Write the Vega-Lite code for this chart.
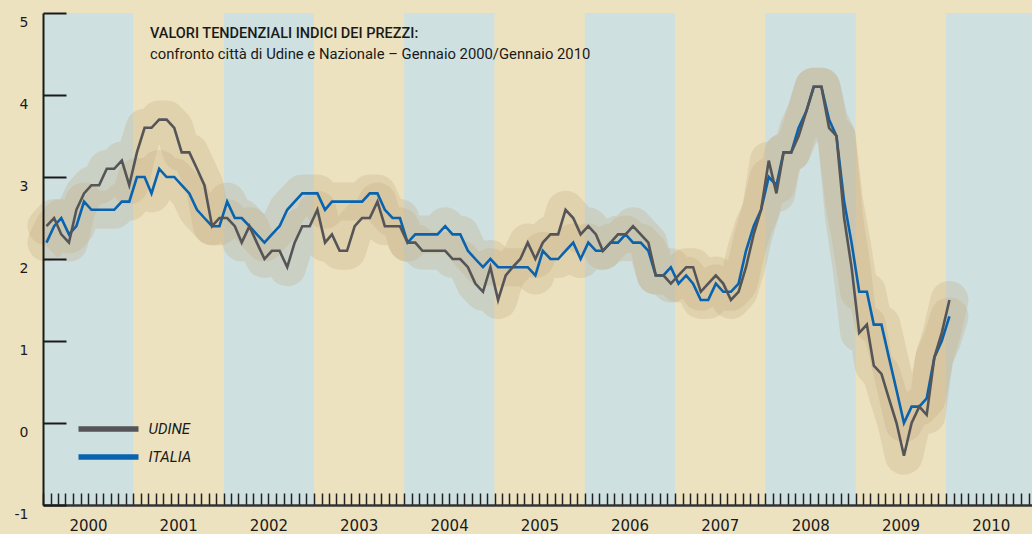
{
"$schema": "https://vega.github.io/schema/vega-lite/v6.json",
"width": 989, "height": 492,
"autosize": "none",
"padding": {"left": 43, "top": 13, "right": 0, "bottom": 29},
"background": "#ede2bf",
"config": {"view": {"stroke": null}},
"title": {"text": "VALORI TENDENZIALI INDICI DEI PREZZI:", "subtitle": "confronto città di Udine e Nazionale – Gennaio 2000/Gennaio 2010", "anchor": "start", "frame": "group", "orient": "top", "offset": -51, "dx": 107, "font": "Roboto", "fontSize": 14.5, "fontWeight": 500, "color": "#1a1a1a", "subtitleFont": "Roboto", "subtitleFontSize": 14.8, "subtitleColor": "#1a1a1a", "subtitlePadding": 6},
"datasets": {
"bands": [
{"s": "2000-01-01", "e": "2001-01-01", "k": "blu"},
{"s": "2001-01-01", "e": "2002-01-01", "k": "beige"},
{"s": "2002-01-01", "e": "2003-01-01", "k": "blu"},
{"s": "2003-01-01", "e": "2004-01-01", "k": "beige"},
{"s": "2004-01-01", "e": "2005-01-01", "k": "blu"},
{"s": "2005-01-01", "e": "2006-01-01", "k": "beige"},
{"s": "2006-01-01", "e": "2007-01-01", "k": "blu"},
{"s": "2007-01-01", "e": "2008-01-01", "k": "beige"},
{"s": "2008-01-01", "e": "2009-01-01", "k": "blu"},
{"s": "2009-01-01", "e": "2010-01-01", "k": "beige"},
{"s": "2010-01-01", "e": "2011-01-01", "k": "blu"}
],
"series": [
{"d":"2000-01-15","UDINE":2.4,"ITALIA":2.2},{"d":"2000-02-15","UDINE":2.5,"ITALIA":2.4},{"d":"2000-03-15","UDINE":2.3,"ITALIA":2.5},{"d":"2000-04-15","UDINE":2.2,"ITALIA":2.3},{"d":"2000-05-15","UDINE":2.6,"ITALIA":2.4},{"d":"2000-06-15","UDINE":2.8,"ITALIA":2.7},{"d":"2000-07-15","UDINE":2.9,"ITALIA":2.6},{"d":"2000-08-15","UDINE":2.9,"ITALIA":2.6},{"d":"2000-09-15","UDINE":3.1,"ITALIA":2.6},{"d":"2000-10-15","UDINE":3.1,"ITALIA":2.6},{"d":"2000-11-15","UDINE":3.2,"ITALIA":2.7},{"d":"2000-12-15","UDINE":2.9,"ITALIA":2.7},
{"d":"2001-01-15","UDINE":3.3,"ITALIA":3.0},{"d":"2001-02-15","UDINE":3.6,"ITALIA":3.0},{"d":"2001-03-15","UDINE":3.6,"ITALIA":2.8},{"d":"2001-04-15","UDINE":3.7,"ITALIA":3.1},{"d":"2001-05-15","UDINE":3.7,"ITALIA":3.0},{"d":"2001-06-15","UDINE":3.6,"ITALIA":3.0},{"d":"2001-07-15","UDINE":3.3,"ITALIA":2.9},{"d":"2001-08-15","UDINE":3.3,"ITALIA":2.8},{"d":"2001-09-15","UDINE":3.1,"ITALIA":2.6},{"d":"2001-10-15","UDINE":2.9,"ITALIA":2.5},{"d":"2001-11-15","UDINE":2.4,"ITALIA":2.4},{"d":"2001-12-15","UDINE":2.5,"ITALIA":2.4},
{"d":"2002-01-15","UDINE":2.5,"ITALIA":2.7},{"d":"2002-02-15","UDINE":2.4,"ITALIA":2.5},{"d":"2002-03-15","UDINE":2.2,"ITALIA":2.5},{"d":"2002-04-15","UDINE":2.4,"ITALIA":2.4},{"d":"2002-05-15","UDINE":2.2,"ITALIA":2.3},{"d":"2002-06-15","UDINE":2.0,"ITALIA":2.2},{"d":"2002-07-15","UDINE":2.1,"ITALIA":2.3},{"d":"2002-08-15","UDINE":2.1,"ITALIA":2.4},{"d":"2002-09-15","UDINE":1.9,"ITALIA":2.6},{"d":"2002-10-15","UDINE":2.2,"ITALIA":2.7},{"d":"2002-11-15","UDINE":2.4,"ITALIA":2.8},{"d":"2002-12-15","UDINE":2.4,"ITALIA":2.8},
{"d":"2003-01-15","UDINE":2.6,"ITALIA":2.8},{"d":"2003-02-15","UDINE":2.2,"ITALIA":2.6},{"d":"2003-03-15","UDINE":2.3,"ITALIA":2.7},{"d":"2003-04-15","UDINE":2.1,"ITALIA":2.7},{"d":"2003-05-15","UDINE":2.1,"ITALIA":2.7},{"d":"2003-06-15","UDINE":2.4,"ITALIA":2.7},{"d":"2003-07-15","UDINE":2.5,"ITALIA":2.7},{"d":"2003-08-15","UDINE":2.5,"ITALIA":2.8},{"d":"2003-09-15","UDINE":2.7,"ITALIA":2.8},{"d":"2003-10-15","UDINE":2.4,"ITALIA":2.6},{"d":"2003-11-15","UDINE":2.4,"ITALIA":2.5},{"d":"2003-12-15","UDINE":2.4,"ITALIA":2.5},
{"d":"2004-01-15","UDINE":2.2,"ITALIA":2.2},{"d":"2004-02-15","UDINE":2.2,"ITALIA":2.3},{"d":"2004-03-15","UDINE":2.1,"ITALIA":2.3},{"d":"2004-04-15","UDINE":2.1,"ITALIA":2.3},{"d":"2004-05-15","UDINE":2.1,"ITALIA":2.3},{"d":"2004-06-15","UDINE":2.1,"ITALIA":2.4},{"d":"2004-07-15","UDINE":2.0,"ITALIA":2.3},{"d":"2004-08-15","UDINE":2.0,"ITALIA":2.3},{"d":"2004-09-15","UDINE":1.9,"ITALIA":2.1},{"d":"2004-10-15","UDINE":1.7,"ITALIA":2.0},{"d":"2004-11-15","UDINE":1.6,"ITALIA":1.9},{"d":"2004-12-15","UDINE":1.9,"ITALIA":2.0},
{"d":"2005-01-15","UDINE":1.5,"ITALIA":1.9},{"d":"2005-02-15","UDINE":1.8,"ITALIA":1.9},{"d":"2005-03-15","UDINE":1.9,"ITALIA":1.9},{"d":"2005-04-15","UDINE":2.0,"ITALIA":1.9},{"d":"2005-05-15","UDINE":2.2,"ITALIA":1.9},{"d":"2005-06-15","UDINE":2.0,"ITALIA":1.8},{"d":"2005-07-15","UDINE":2.2,"ITALIA":2.1},{"d":"2005-08-15","UDINE":2.3,"ITALIA":2.0},{"d":"2005-09-15","UDINE":2.3,"ITALIA":2.0},{"d":"2005-10-15","UDINE":2.6,"ITALIA":2.1},{"d":"2005-11-15","UDINE":2.5,"ITALIA":2.2},{"d":"2005-12-15","UDINE":2.3,"ITALIA":2.0},
{"d":"2006-01-15","UDINE":2.4,"ITALIA":2.2},{"d":"2006-02-15","UDINE":2.3,"ITALIA":2.1},{"d":"2006-03-15","UDINE":2.1,"ITALIA":2.1},{"d":"2006-04-15","UDINE":2.2,"ITALIA":2.2},{"d":"2006-05-15","UDINE":2.3,"ITALIA":2.2},{"d":"2006-06-15","UDINE":2.3,"ITALIA":2.3},{"d":"2006-07-15","UDINE":2.4,"ITALIA":2.2},{"d":"2006-08-15","UDINE":2.3,"ITALIA":2.2},{"d":"2006-09-15","UDINE":2.2,"ITALIA":2.1},{"d":"2006-10-15","UDINE":1.8,"ITALIA":1.8},{"d":"2006-11-15","UDINE":1.8,"ITALIA":1.8},{"d":"2006-12-15","UDINE":1.7,"ITALIA":1.9},
{"d":"2007-01-15","UDINE":1.8,"ITALIA":1.7},{"d":"2007-02-15","UDINE":1.9,"ITALIA":1.8},{"d":"2007-03-15","UDINE":1.9,"ITALIA":1.7},{"d":"2007-04-15","UDINE":1.6,"ITALIA":1.5},{"d":"2007-05-15","UDINE":1.7,"ITALIA":1.5},{"d":"2007-06-15","UDINE":1.8,"ITALIA":1.7},{"d":"2007-07-15","UDINE":1.7,"ITALIA":1.6},{"d":"2007-08-15","UDINE":1.5,"ITALIA":1.6},{"d":"2007-09-15","UDINE":1.6,"ITALIA":1.7},{"d":"2007-10-15","UDINE":1.9,"ITALIA":2.1},{"d":"2007-11-15","UDINE":2.3,"ITALIA":2.4},{"d":"2007-12-15","UDINE":2.6,"ITALIA":2.6},
{"d":"2008-01-15","UDINE":3.2,"ITALIA":3.0},{"d":"2008-02-15","UDINE":2.8,"ITALIA":2.9},{"d":"2008-03-15","UDINE":3.3,"ITALIA":3.3},{"d":"2008-04-15","UDINE":3.3,"ITALIA":3.3},{"d":"2008-05-15","UDINE":3.5,"ITALIA":3.6},{"d":"2008-06-15","UDINE":3.8,"ITALIA":3.8},{"d":"2008-07-15","UDINE":4.1,"ITALIA":4.1},{"d":"2008-08-15","UDINE":4.1,"ITALIA":4.1},{"d":"2008-09-15","UDINE":3.6,"ITALIA":3.7},{"d":"2008-10-15","UDINE":3.5,"ITALIA":3.5},{"d":"2008-11-15","UDINE":2.5,"ITALIA":2.7},{"d":"2008-12-15","UDINE":1.9,"ITALIA":2.2},
{"d":"2009-01-15","UDINE":1.1,"ITALIA":1.6},{"d":"2009-02-15","UDINE":1.2,"ITALIA":1.6},{"d":"2009-03-15","UDINE":0.7,"ITALIA":1.2},{"d":"2009-04-15","UDINE":0.6,"ITALIA":1.2},{"d":"2009-05-15","UDINE":0.3,"ITALIA":0.8},{"d":"2009-06-15","UDINE":0.0,"ITALIA":0.4},{"d":"2009-07-15","UDINE":-0.4,"ITALIA":0.0},{"d":"2009-08-15","UDINE":0.0,"ITALIA":0.2},{"d":"2009-09-15","UDINE":0.2,"ITALIA":0.2},{"d":"2009-10-15","UDINE":0.1,"ITALIA":0.3},{"d":"2009-11-15","UDINE":0.8,"ITALIA":0.8},{"d":"2009-12-15","UDINE":1.1,"ITALIA":1.0},
{"d":"2010-01-15","UDINE":1.5,"ITALIA":1.3}
]
},
"layer": [
{
"data": {"name": "bands"},
"mark": {"type": "rect", "clip": true},
"encoding": {
"x": {"field": "s", "type": "temporal", "scale": {"type": "utc", "domain": [{"year": 2000, "month": 1, "date": 1, "utc": true}, {"year": 2010, "month": 12, "date": 15, "utc": true}], "nice": false},
"axis": {"title": null, "tickCount": {"interval": "month", "step": 1}, "labelExpr": "utcmonth(datum.value) == 6 ? utcFormat(datum.value, '%Y') : ''", "tickSize": -12, "tickWidth": 1.5, "tickColor": "#222222", "domainColor": "#333333", "domainWidth": 2.5, "labelPadding": 25, "labelFont": "DejaVu Sans", "labelFontSize": 15, "labelColor": "#1a1a1a", "labelOverlap": false, "labelFlush": false, "labelBound": false, "grid": false, "zindex": 1}},
"x2": {"field": "e"},
"fill": {"field": "k", "type": "nominal", "scale": {"domain": ["blu", "beige"], "range": ["#cfe0e1", "#ede2bf"]}, "legend": null}
}
},
{
"data": {"name": "series"},
"transform": [{"fold": ["UDINE", "ITALIA"], "as": ["c", "v"]}],
"encoding": {
"x": {"field": "d", "type": "temporal", "scale": {"type": "utc", "domain": [{"year": 2000, "month": 1, "date": 1, "utc": true}, {"year": 2010, "month": 12, "date": 15, "utc": true}], "nice": false},
"axis": {"title": null, "tickCount": {"interval": "month", "step": 1}, "labelExpr": "utcmonth(datum.value) == 6 ? utcFormat(datum.value, '%Y') : ''", "tickSize": -12, "tickWidth": 1.5, "tickColor": "#222222", "domainColor": "#333333", "domainWidth": 2.5, "labelPadding": 25, "labelFont": "DejaVu Sans", "labelFontSize": 15, "labelColor": "#1a1a1a", "labelOverlap": false, "labelFlush": false, "labelBound": false, "grid": false, "zindex": 1}},
"y": {"field": "v", "type": "quantitative", "scale": {"domain": [-1, 5], "nice": false, "zero": false},
"axis": {"title": null, "values": [-1, 0, 1, 2, 3, 4, 5], "labelExpr": "'' + datum.value", "tickSize": -23, "tickWidth": 2, "tickColor": "#1a1a1a", "domainColor": "#1a1a1a", "domainWidth": 2, "labelPadding": 38, "labelFont": "DejaVu Sans", "labelFontSize": 14, "labelColor": "#1a1a1a", "labelOffset": 9, "grid": false, "zindex": 1}}
},
"layer": [
{"mark": {"type": "line", "stroke": "#c2ad86", "strokeWidth": 38, "opacity": 0.3, "strokeCap": "round", "strokeJoin": "round"},
 "encoding": {"detail": {"field": "c", "type": "nominal"}}},
{"transform": [{"filter": {"field": "c", "equal": "ITALIA"}}],
 "mark": {"type": "line", "strokeWidth": 2.6, "strokeJoin": "miter"},
 "encoding": {"color": {"field": "c", "type": "nominal", "scale": {"domain": ["UDINE", "ITALIA"], "range": ["#555558", "#0963ae"]},
   "legend": {"orient": "none", "legendX": 56.5, "legendY": 407, "title": null, "symbolType": "M-5,0H5", "symbolSize": 144, "symbolStrokeWidth": 5.5, "labelFont": "Roboto", "labelFontStyle": "italic", "labelFontSize": 15, "labelColor": "#1a1a1a", "labelOffset": 31, "rowPadding": 6, "padding": 0}}}},
{"transform": [{"filter": {"field": "c", "equal": "UDINE"}}],
 "mark": {"type": "line", "strokeWidth": 2.6, "strokeJoin": "miter"},
 "encoding": {"color": {"field": "c", "type": "nominal"}}}
]
}
]
}
